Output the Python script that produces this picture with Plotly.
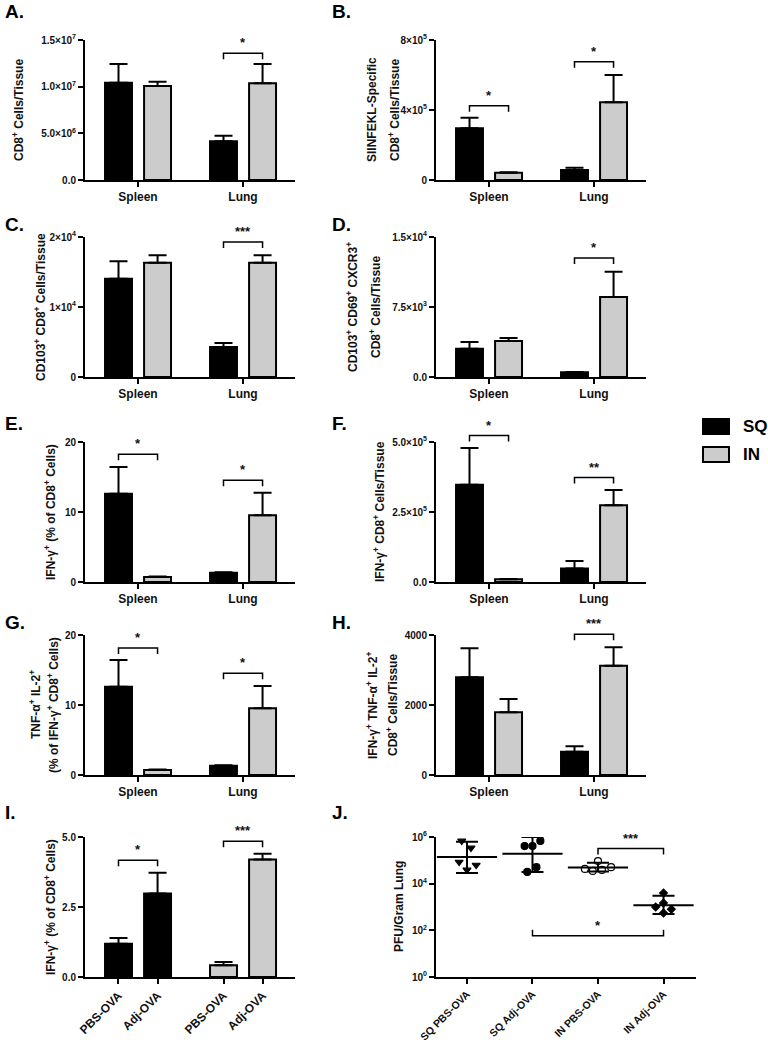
import math
import plotly.graph_objects as go

W, H = 768, 1043
FONT = "Liberation Sans, Arial, Helvetica, sans-serif"
INK = "#111111"
SQ_COLOR = "#000000"
IN_COLOR = "#cccccc"

# ---------------- data ----------------
tissues = ["Spleen", "Lung"]

A_sq = [1.043e7, 4.14e6]; A_sq_err = [2.0e6, 6.1e5]
A_in = [1.007e7, 1.036e7]; A_in_err = [4.7e5, 2.07e6]

B_sq = [2.95e5, 5.7e4]; B_sq_err = [6.1e4, 1.3e4]
B_in = [4.2e4, 4.44e5]; B_in_err = [2.0e3, 1.56e5]

C_sq = [1.405e4, 4.29e3]; C_sq_err = [2.47e3, 5.7e2]
C_in = [1.633e4, 1.633e4]; C_in_err = [1.05e3, 1.05e3]

D_sq = [3.04e3, 5.0e2]; D_sq_err = [7.1e2, 4.0e1]
D_in = [3.86e3, 8.57e3]; D_in_err = [3.2e2, 2.71e3]

E_sq = [12.62, 1.33]; E_sq_err = [3.81, 0.06]
E_in = [0.71, 9.52]; E_in_err = [0.06, 3.24]

F_sq = [3.47e5, 4.8e4]; F_sq_err = [1.32e5, 2.7e4]
F_in = [9.6e3, 2.74e5]; F_in_err = [1.5e3, 5.5e4]

G_sq = [12.62, 1.33]; G_sq_err = [3.81, 0.06]
G_in = [0.71, 9.52]; G_in_err = [0.06, 3.19]

H_sq = [2790, 667]; H_sq_err = [830, 152]
H_in = [1790, 3124]; H_in_err = [380, 524]

I_routes = ["SQ", "IN"]
I_vaccines = ["PBS-OVA", "Adj-OVA"]
I_pbs = [1.19, 0.42]; I_pbs_err = [0.20, 0.12]
I_adj = [2.98, 4.20]; I_adj_err = [0.74, 0.20]

J_groups = ["SQ PBS-OVA", "SQ Adj-OVA", "IN PBS-OVA", "IN Adj-OVA"]
J_points = [
    [6.8e5, 3.4e5, 8.5e4, 6.3e4, 3.9e4],
    [4.1e5, 4.1e5, 6.8e5, 5.1e4, 3.2e4],
    [9.3e4, 4.3e4, 3.5e4, 3.9e4, 5.1e4],
    [4.0e3, 1.0e3, 1.5e3, 8.1e2, 5.5e2],
]
J_jitter = [
    [-0.08, 0.06, -0.12, 0.14, 0.0],
    [-0.12, 0.0, 0.12, 0.06, -0.08],
    [0.0, -0.2, -0.08, 0.06, 0.2],
    [0.0, -0.12, 0.0, 0.12, 0.0],
]
J_mean = [1.4e5, 1.9e5, 4.9e4, 1.2e3]
J_upper = [6.2e5, 1.0e6, 7.8e4, 3.0e3]
J_lower = [2.9e4, 3.2e4, 3.3e4, 5.0e2]
J_symbols = ["triangle-down", "circle", "circle", "diamond"]
J_fill = ["#000000", "#000000", "#ffffff", "#000000"]
J_sizes = [7, 7, 7, 6]

# significance brackets for bar panels: (panel, group index, level, label)
bar_sig = [
    ("A", 1, 1.357e7, "*"),
    ("B", 0, 4.25e5, "*"), ("B", 1, 6.76e5, "*"),
    ("C", 1, 1.93e4, "***"),
    ("D", 1, 1.275e4, "*"),
    ("E", 0, 18.24, "*"), ("E", 1, 14.52, "*"),
    ("F", 0, 5.23e5, "*"), ("F", 1, 3.73e5, "**"),
    ("G", 0, 18.14, "*"), ("G", 1, 14.52, "*"),
    ("H", 1, 4019, "***"),
    ("I", 0, 4.17, "*"), ("I", 1, 4.85, "***"),
]
# J brackets: (left group, right group, level, label, ticks_up)
J_sig = [(2, 3, 3.2e5, "***", False), (1, 3, 58, "*", True)]

# ---------------- layout constants ----------------
BARGAP = 0.256
BARGROUPGAP = 0.31
OFF = (1 - BARGAP) / 4

COLS = {"L": (85, 295), "R": (436, 646), "J": (436, 696)}
ROWS = [(40, 180), (237, 377), (442, 582), (635, 775), (837, 977)]
CAT_RANGE = [-0.505, 1.495]

sup = lambda b, e: f"{b}×10<sup>{e}</sup>"
panels = {
    "A": dict(n=1, col="L", row=0, ymax=1.5e7, tv=[0, 5e6, 1e7, 1.5e7],
              tt=["0.0", sup("5.0", 6), sup("1.0", 7), sup("1.5", 7)],
              titles=[("CD8<sup>+</sup> Cells/Tissue", 18)], lab=(3, 11)),
    "B": dict(n=2, col="R", row=0, ymax=8e5, tv=[0, 4e5, 8e5],
              tt=["0", sup("4", 5), sup("8", 5)],
              titles=[("SIINFEKL-Specific", 372), ("CD8<sup>+</sup> Cells/Tissue", 394)], lab=(330, 11)),
    "C": dict(n=3, col="L", row=1, ymax=2e4, tv=[0, 1e4, 2e4],
              tt=["0", sup("1", 4), sup("2", 4)],
              titles=[("CD103<sup>+</sup> CD8<sup>+</sup> Cells/Tissue", 40)], lab=(3, 224)),
    "D": dict(n=4, col="R", row=1, ymax=1.5e4, tv=[0, 7.5e3, 1.5e4],
              tt=["0.0", sup("7.5", 3), sup("1.5", 4)],
              titles=[("CD103<sup>+</sup> CD69<sup>+</sup> CXCR3<sup>+</sup>", 352),
                      ("CD8<sup>+</sup> Cells/Tissue", 375)], lab=(330, 224)),
    "E": dict(n=5, col="L", row=2, ymax=20, tv=[0, 10, 20], tt=["0", "10", "20"],
              titles=[("IFN-γ<sup>+</sup> (% of CD8<sup>+</sup> Cells)", 50)], lab=(3, 424)),
    "F": dict(n=6, col="R", row=2, ymax=5e5, tv=[0, 2.5e5, 5e5],
              tt=["0.0", sup("2.5", 5), sup("5.0", 5)],
              titles=[("IFN-γ<sup>+</sup> CD8<sup>+</sup> Cells/Tissue", 379)], lab=(330, 424)),
    "G": dict(n=7, col="L", row=3, ymax=20, tv=[0, 10, 20], tt=["0", "10", "20"],
              titles=[("TNF-α<sup>+</sup> IL-2<sup>+</sup>", 35),
                      ("(% of IFN-γ<sup>+</sup> CD8<sup>+</sup> Cells)", 53)], lab=(3, 622)),
    "H": dict(n=8, col="R", row=3, ymax=4000, tv=[0, 2000, 4000], tt=["0", "2000", "4000"],
              titles=[("IFN-γ<sup>+</sup> TNF-α<sup>+</sup> IL-2<sup>+</sup>", 372),
                      ("CD8<sup>+</sup> Cells/Tissue", 392)], lab=(330, 622)),
    "I": dict(n=9, col="L", row=4, ymax=5, tv=[0, 2.5, 5], tt=["0.0", "2.5", "5.0"],
              titles=[("IFN-γ<sup>+</sup> (% of CD8<sup>+</sup> Cells)", 50)], lab=(3, 812)),
    "J": dict(n=10, col="J", row=4, ymax=None, tv=[1, 1e2, 1e4, 1e6],
              tt=["10<sup>0</sup>", "10<sup>2</sup>", "10<sup>4</sup>", "10<sup>6</sup>"],
              titles=[("PFU/Gram Lung", 399)], lab=(330, 812)),
}
J_XRANGE = [-0.473, 3.496]
J_YRANGE = [0, 6]


def xr(p):
    return J_XRANGE if p == "J" else CAT_RANGE


def yr(p):
    return J_YRANGE if p == "J" else [0, panels[p]["ymax"]]


def xpx(p, v):
    x0, x1 = COLS[panels[p]["col"]]
    r0, r1 = xr(p)
    return x0 + (v - r0) / (r1 - r0) * (x1 - x0)


def ypx(p, v):
    top, bot = ROWS[panels[p]["row"]]
    r0, r1 = yr(p)
    val = math.log10(v) if p == "J" else v
    return bot - (val - r0) / (r1 - r0) * (bot - top)


def px2paper(x, y):
    return x / W, 1 - y / H


fig = go.Figure()

axis_common = dict(showline=True, linewidth=2, linecolor="black", ticks="outside",
                   ticklen=5, tickwidth=2, tickcolor="black", showgrid=False,
                   zeroline=False, fixedrange=True, automargin=False)


def err(arr):
    return dict(type="data", array=arr, arrayminus=[0] * len(arr), symmetric=False,
                color="black", thickness=2, width=9)


bar_data = {
    "A": (A_sq, A_sq_err, A_in, A_in_err), "B": (B_sq, B_sq_err, B_in, B_in_err),
    "C": (C_sq, C_sq_err, C_in, C_in_err), "D": (D_sq, D_sq_err, D_in, D_in_err),
    "E": (E_sq, E_sq_err, E_in, E_in_err), "F": (F_sq, F_sq_err, F_in, F_in_err),
    "G": (G_sq, G_sq_err, G_in, G_in_err), "H": (H_sq, H_sq_err, H_in, H_in_err),
}

for p, (sq, sqe, inn, ine) in bar_data.items():
    n = panels[p]["n"]
    xa = "x" if n == 1 else f"x{n}"
    ya = "y" if n == 1 else f"y{n}"
    fig.add_trace(go.Bar(x=tissues, y=sq, error_y=err(sqe), name="SQ", xaxis=xa, yaxis=ya,
                         marker=dict(color=SQ_COLOR, line=dict(color="black", width=2))))
    fig.add_trace(go.Bar(x=tissues, y=inn, error_y=err(ine), name="IN", xaxis=xa, yaxis=ya,
                         marker=dict(color=IN_COLOR, line=dict(color="black", width=2))))

# Panel I: grouped by route, coloured by route
route_colors = [SQ_COLOR, IN_COLOR]
for vals, errs, nm in [(I_pbs, I_pbs_err, "PBS-OVA"), (I_adj, I_adj_err, "Adj-OVA")]:
    fig.add_trace(go.Bar(x=list(range(len(I_routes))), y=vals, error_y=err(errs), name=nm,
                         xaxis="x9", yaxis="y9",
                         marker=dict(color=route_colors, line=dict(color="black", width=2))))

# Panel J: scatter with geometric mean and SD
for gi, g in enumerate(J_groups):
    fig.add_trace(go.Scatter(
        x=[gi + j for j in J_jitter[gi]], y=J_points[gi], mode="markers", xaxis="x10", yaxis="y10",
        marker=dict(symbol=J_symbols[gi], size=J_sizes[gi], color=J_fill[gi],
                    line=dict(color="black", width=1.2)), name=g))
    fig.add_trace(go.Scatter(
        x=[gi], y=[J_mean[gi]], mode="markers", xaxis="x10", yaxis="y10",
        marker=dict(symbol="line-ew", size=43, line=dict(color="black", width=2)),
        error_y=dict(type="data", symmetric=False, array=[J_upper[gi] - J_mean[gi]],
                     arrayminus=[J_mean[gi] - J_lower[gi]], color="black", thickness=2, width=11),
        name=g + " mean"))

layout = dict(width=W, height=H, margin=dict(l=0, r=0, t=0, b=0, pad=0, autoexpand=False),
              template="none",
              paper_bgcolor="white", plot_bgcolor="white", showlegend=False,
              barmode="group", bargap=BARGAP, bargroupgap=BARGROUPGAP,
              font=dict(family=FONT, color=INK, size=12, weight="bold"))

shapes = []
annotations = []

for p, cfg in panels.items():
    n = cfg["n"]
    sfx = "" if n == 1 else str(n)
    x0, x1 = COLS[cfg["col"]]
    top, bot = ROWS[cfg["row"]]
    xax = dict(axis_common, domain=[x0 / W, x1 / W], anchor="y" + sfx, range=xr(p),
               tickfont=dict(size=12, family=FONT, color=INK, weight="bold"))
    if p == "I":
        xax.update(type="linear", tickmode="array",
                   tickvals=[g + s * OFF for g in range(len(I_routes)) for s in (-1, 1)],
                   ticktext=I_vaccines * len(I_routes), tickangle=-45)
    elif p == "J":
        xax.update(type="linear", tickmode="array", tickvals=list(range(len(J_groups))),
                   ticktext=J_groups, tickangle=-45,
                   tickfont=dict(size=10.5, family=FONT, color=INK, weight="bold"))
    else:
        xax.update(type="category")
    yax = dict(axis_common, domain=[1 - bot / H, 1 - top / H], anchor="x" + sfx,
               tickmode="array", tickvals=cfg["tv"], ticktext=cfg["tt"],
               tickfont=dict(size=10, family=FONT, color=INK, weight="bold"))
    if p == "J":
        yax.update(type="log", range=J_YRANGE)
    else:
        yax.update(range=[0, cfg["ymax"]])
    layout["xaxis" + sfx] = xax
    layout["yaxis" + sfx] = yax

    # axis titles
    for txt, tx in cfg["titles"]:
        ax_, ay_ = px2paper(tx, (top + bot) / 2)
        annotations.append(dict(x=ax_, y=ay_, xref="paper", yref="paper", text=txt,
                                textangle=-90, showarrow=False, xanchor="center", yanchor="middle",
                                font=dict(size=12, family=FONT, color=INK, weight="bold")))
    # panel letter
    lx, ly = px2paper(*cfg["lab"])
    annotations.append(dict(x=lx, y=ly, xref="paper", yref="paper", text=p + ".",
                            showarrow=False, xanchor="left", yanchor="middle",
                            font=dict(size=19, family=FONT, color="black", weight="bold")))


def bracket(p, xa_, xb_, level, label, up=False):
    pa = xpx(p, xa_)
    pb = xpx(p, xb_)
    py = ypx(p, level)
    t = -6 if up else 6
    (ax0, ay0), (ax1, ay1) = px2paper(pa, py + t), px2paper(pa, py)
    (bx1, by1), (bx0, by0) = px2paper(pb, py), px2paper(pb, py + t)
    path = f"M {ax0},{ay0} L {ax1},{ay1} L {bx1},{by1} L {bx0},{by0}"
    shapes.append(dict(type="path", path=path, xref="paper", yref="paper",
                       line=dict(color="black", width=1.5)))
    sx, sy = px2paper((pa + pb) / 2, py - 1)
    annotations.append(dict(x=sx, y=sy, xref="paper", yref="paper", text=label, showarrow=False,
                            xanchor="center", yanchor="bottom",
                            font=dict(size=13, family=FONT, color=INK, weight="bold")))


for p, gi, level, label in bar_sig:
    bracket(p, gi - OFF, gi + OFF, level, label)
for a, b, level, label, up in J_sig:
    bracket("J", a, b, level, label, up)

# legend
legend_items = [("SQ", SQ_COLOR, 419), ("IN", IN_COLOR, 447)]
for name, col, ytop in legend_items:
    bx0, by0 = px2paper(703, ytop)
    bx1, by1 = px2paper(729, ytop + 15)
    shapes.append(dict(type="rect", x0=bx0, x1=bx1, y0=by1, y1=by0, xref="paper", yref="paper",
                       fillcolor=col, line=dict(color="black", width=2)))
    tx, ty = px2paper(741, ytop + 7.5)
    annotations.append(dict(x=tx, y=ty, xref="paper", yref="paper", text=name, showarrow=False,
                            xanchor="left", yanchor="middle",
                            font=dict(size=17, family=FONT, color="black", weight="bold")))

layout["shapes"] = shapes
layout["annotations"] = annotations
fig.update_layout(**layout)
fig.write_html("out.html", config={"displayModeBar": False, "staticPlot": False},
               post_script="document.body.style.margin='0';document.body.style.overflow='hidden';")
